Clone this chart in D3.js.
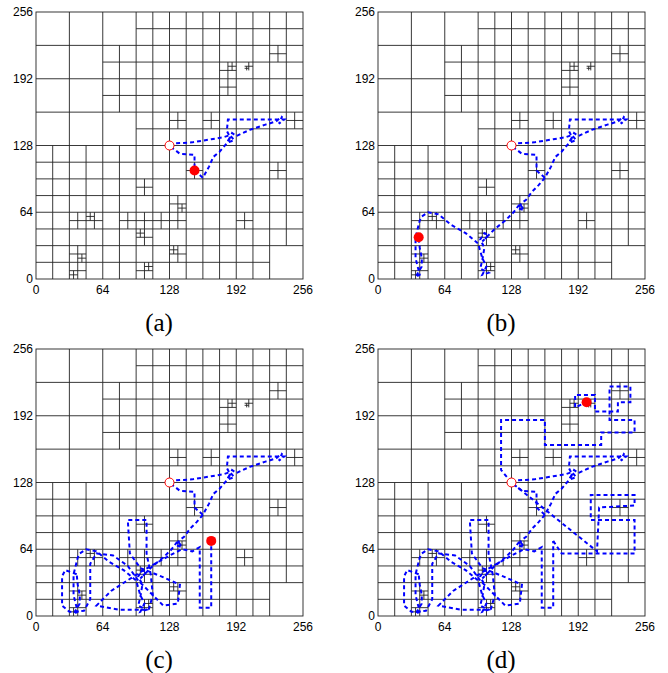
<!DOCTYPE html>
<html>
<head>
<meta charset="utf-8">
<script src="https://cdn.jsdelivr.net/npm/d3@7"></script>
<style>
  body { margin: 0; background: #fff; }
  .tick-label { font-family: "Liberation Sans", Arial, sans-serif; font-size: 12px; fill: #000; }
  .panel-name { font-family: "Liberation Serif", "Times New Roman", serif; font-size: 25px; fill: #000; }
</style>
</head>
<body>
<svg id="fig" width="668" height="673"></svg>
<script>
// axis ticks and panel captions
const tickValues = [0, 64, 128, 192, 256];
const panelNames = ["(a)", "(b)", "(c)", "(d)"];

// quadtree: regions refined uniformly down to a leaf size [x, y, size, leaf]
const refineRegions = [
  [0, 0, 256, 128],
  [0, 0, 128, 16],
  [128, 0, 128, 16],
  [128, 128, 128, 16],
  [0, 128, 128, 32],
  [64, 192, 32, 16], [96, 224, 32, 16], [96, 192, 32, 16],
  [64, 160, 32, 16], [96, 160, 32, 16], [96, 128, 32, 16]
];
// cells kept whole inside refined regions
const leafCells = [[224, 0, 32]];
// extra local splits [x, y, size]
const extraSplits = [
  [224, 208, 16], [176, 192, 16], [184, 200, 8], [176, 176, 16], [200, 200, 8], [200, 200, 4],
  [128, 144, 16], [160, 144, 16], [240, 144, 16],
  [224, 96, 16], [144, 96, 16], [128, 64, 16], [136, 64, 8], [128, 48, 16], [192, 48, 16],
  [128, 16, 16], [128, 24, 8],
  [96, 80, 16], [32, 48, 16], [48, 48, 16], [48, 56, 8], [80, 48, 16], [96, 48, 16], [112, 48, 16],
  [96, 32, 16], [96, 40, 8], [32, 16, 16], [40, 16, 8], [32, 0, 16], [32, 0, 8], [96, 0, 16], [104, 8, 8]
];

// trajectory legs [u, v]; panel k shows legs up to k
const startPoint = [128, 128];
const legA = [[128,128],[133,130],[150,131],[168,134],[180,136],[186,138],[190,133],[184,131],[188,140],
  [192,137],[205,143],[220,148],[230,151],[236,156],[233,149],[238,153],[232,153],[184,153],[183,142],
  [186,136],[182,129],[176,122],[170,117],[166,108],[160,97],[152,104],[152,119],[138,120],[133,124],[130,126]];
const legB = [[160,97],[154,90],[148,84],[142,76],[138,73],[134,68],[140,66],[136,72],[130,64],[122,56],
  [112,48],[100,36],[106,42],[102,44],[98,38],[102,30],[100,18],[98,10],[106,6],[100,4],[104,12],[100,20],
  [96,34],[84,44],[70,52],[58,62],[48,64],[42,60],[40,56],[36,40],[36,20],[40,4],[36,2],[42,12],[42,20],
  [40,30],[39,40]];
const legC = [[39,40],[28,44],[25,38],[25,10],[32,4],[46,5],[52,16],[52,50],[58,60],[74,58],[88,48],
  [98,34],[112,20],[122,10],[136,12],[138,30],[120,38],[100,46],[90,60],[88,92],[106,92],[106,60],
  [110,40],[112,20],[108,6],[80,6],[58,10],[72,24],[100,42],[128,58],[140,64],[150,62],[157,66],
  [157,8],[168,8],[168,72]];
const legD = [[168,72],[176,60],[246,60],[246,92],[204,92],[204,116],[246,116],[246,106],[212,104],
  [210,62],[128,128],[118,140],[118,188],[160,188],[160,164],[190,164],[214,164],[214,176],[246,176],
  [246,188],[222,188],[222,220],[242,220],[242,205],[230,205],[230,196],[208,196],[208,212],[189,212],
  [189,200],[200,205]];
const legs = [legA, legB, legC, legD];
// current position marker of each panel
const currentU = [152, 39, 168, 200];
const currentV = [104, 40, 72, 205];

const size = 267;
const origins = [[36, 12], [378, 12], [36, 349], [378, 349]];

function buildSplits() {
  const out = [];
  const isLeaf = (x, y, s) => leafCells.some(c => c[0] === x && c[1] === y && c[2] === s);
  function refine(x, y, s, leaf) {
    if (s <= leaf || isLeaf(x, y, s)) return;
    out.push([x, y, s]);
    const h = s / 2;
    refine(x, y, h, leaf); refine(x + h, y, h, leaf);
    refine(x, y + h, h, leaf); refine(x + h, y + h, h, leaf);
  }
  refineRegions.forEach(r => refine(...r));
  return out.concat(extraSplits);
}

const splits = buildSplits();
const segments = splits.flatMap(([x, y, s]) => [
  [x + s / 2, y, x + s / 2, y + s],
  [x, y + s / 2, x + s, y + s / 2]
]);

const svg = d3.select("#fig");

origins.forEach(([ox, oy], p) => {
  const xS = d3.scaleLinear().domain([0, 256]).range([ox, ox + size]);
  const yS = d3.scaleLinear().domain([0, 256]).range([oy + size, oy]);
  const g = svg.append("g");

  // quadtree cells
  g.append("g").selectAll("line")
    .data(segments)
    .join("line")
    .attr("x1", d => xS(d[0])).attr("y1", d => yS(d[1]))
    .attr("x2", d => xS(d[2])).attr("y2", d => yS(d[3]))
    .attr("stroke", "#222")
    .attr("stroke-width", 0.9);

  g.append("rect")
    .attr("x", xS(0)).attr("y", yS(256))
    .attr("width", xS(256) - xS(0)).attr("height", yS(0) - yS(256))
    .attr("fill", "none").attr("stroke", "#222").attr("stroke-width", 0.9);

  // tick labels
  g.selectAll(".xt").data(tickValues).join("text")
    .attr("class", "tick-label")
    .attr("x", d => xS(d)).attr("y", yS(0) + 15)
    .attr("text-anchor", "middle")
    .text(d => d);
  g.selectAll(".yt").data(tickValues).join("text")
    .attr("class", "tick-label")
    .attr("x", xS(0) - 3).attr("y", d => yS(d) + 4)
    .attr("text-anchor", "end")
    .text(d => d);

  // trajectory so far
  const line = d3.line().x(d => xS(d[0])).y(d => yS(d[1]));
  g.append("g").selectAll("path")
    .data(legs.slice(0, p + 1))
    .join("path")
    .attr("d", line)
    .attr("fill", "none")
    .attr("stroke", "#0000ff")
    .attr("stroke-width", 2)
    .attr("stroke-dasharray", "4,3");

  g.append("circle")
    .attr("cx", xS(startPoint[0])).attr("cy", yS(startPoint[1]))
    .attr("r", 4.5)
    .attr("fill", "#fff").attr("stroke", "#ff0000").attr("stroke-width", 1);

  g.append("circle")
    .attr("cx", xS(currentU[p])).attr("cy", yS(currentV[p]))
    .attr("r", 5)
    .attr("fill", "#ff0000");

  g.append("text")
    .attr("class", "panel-name")
    .attr("x", xS(118)).attr("y", yS(0) + 52)
    .attr("text-anchor", "middle")
    .text(panelNames[p]);
});
</script>
</body>
</html>
